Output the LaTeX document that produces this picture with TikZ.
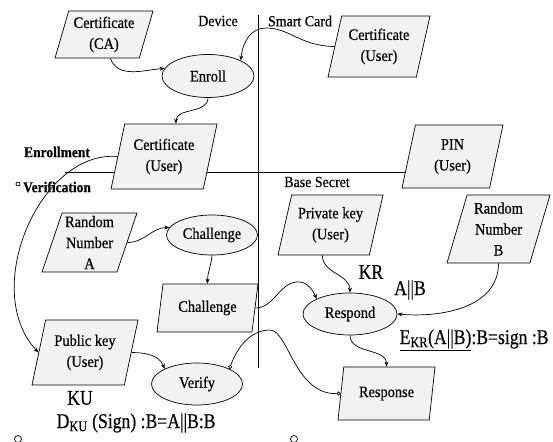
\documentclass[tikz,border=0pt]{standalone}
\usepackage{fontspec}
\setmainfont[FakeStretch=0.9, FakeBold=0.4]{Liberation Serif}
\newfontfamily\narrowfont[FakeStretch=0.84, FakeBold=0.4]{Liberation Serif}
\usetikzlibrary{arrows.meta,shapes.geometric}
\definecolor{boxfill}{HTML}{F2F2F2}

\begin{document}
\begin{tikzpicture}[x=1pt, y=-1pt,
  io/.style={draw, fill=boxfill, trapezium, trapezium left angle=70, trapezium right angle=110,
    trapezium stretches body, inner sep=1pt, align=center, font=\fontsize{16}{21}\selectfont},
  proc/.style={draw, fill=boxfill, ellipse, inner sep=0pt, font=\fontsize{16}{18}\selectfont},
  link/.style={-{Stealth[length=5pt, width=4pt]}},
  cmp/.style={{Circle[open, length=4pt]}-{Circle[open, length=4pt]}},
  lab/.style={font=\fontsize{15.5}{17}\selectfont},
  big/.style={font=\narrowfont\fontsize{21}{23}\selectfont},
  line width=0.7pt]
  \useasboundingbox (0,0) rectangle (553,441);

  % Separators
  \draw (258,15) -- (258,368);
  \draw (65,172) -- (420,172);

  % Region labels
  \node[lab] (device) at (218,21) {Device};
  \node[lab] (card) at (300,21) {Smart Card};
  \node[lab, font=\fontsize{15}{17}\selectfont\bfseries] (enrolment) at (57,152) {Enrollment};
  \node[lab, font=\fontsize{15}{17}\selectfont\bfseries] (verification) at (57,187) {Verification};
  \node[lab] (secret) at (317,182) {Base Secret};
  \draw (18,184) circle (2);
  \draw (18,439) circle (3.5);
  \draw (294,439) circle (3.5);

  % Data (parallelograms)
  \node[io, minimum width=98pt, minimum height=47pt] (ca) at (104,34.5) {Certificate\\(CA)};
  \node[io, minimum width=102pt, minimum height=61pt] (cu1) at (379,46.5) {Certificate\\(User)};
  \node[io, minimum width=106pt, minimum height=65pt] (cu2) at (164,156.5) {Certificate\\(User)};
  \node[io, minimum width=101pt, minimum height=63pt] (pin) at (452.5,156.5) {PIN\\(User)};
  \node[io, minimum width=105pt, minimum height=60pt] (prk) at (330.5,225) {Private key\\(User)};
  \node[io, minimum width=103pt, minimum height=68pt] (rnb) at (498.5,229) {Random\\Number\\B};
  \node[io, minimum width=95pt, minimum height=59pt] (rna) at (89.5,242.5) {Random\\Number\\A};
  \node[io, minimum width=101pt, minimum height=48pt] (chp) at (207.5,308) {Challenge};
  \node[io, minimum width=106pt, minimum height=65pt] (puk) at (85,352.5) {Public key\\(User)};
  \node[io, minimum width=97pt, minimum height=53pt] (resp) at (386.5,393.5) {Response};

  % Processes (ellipses)
  \node[proc, minimum width=92pt, minimum height=43pt] (enroll) at (208,76) {Enroll};
  \node[proc, minimum width=91pt, minimum height=40pt] (chal) at (212,235) {Challenge};
  \node[proc, minimum width=94pt, minimum height=42pt] (respond) at (350,314) {Respond};
  \node[proc, minimum width=91pt, minimum height=42pt] (verify) at (197,384) {Verify};

  % Key labels
  \node[big] (kr) at (371,272) {KR};
  \node[big] (ab) at (410,290) {A||B};
  \node[big, anchor=west] (sign) at (396,340) {\underline{E\textsubscript{KR}(A||B)}:B=sign :B};
  \node[big] (ku) at (80,398) {KU};
  \node[big, anchor=west] (check) at (53,423) {D\textsubscript{KU} (Sign) :B=A||B:B};

  % Flows
  \draw[link] (ca.-75) to[out=-70, in=185] (enroll.170);
  \draw[link] (cu1.west) .. controls (300,46) and (290,28) .. (266,28)
    .. controls (252,28) and (243,40) .. (enroll.north east);
  \draw[link] (enroll.south) to[out=-90, in=90] (cu2.70);
  \draw[link] (cu2.west) .. controls (40,150) and (-20,290) .. (puk.west);
  \draw[link] (rna.east) to[out=0, in=180] (chal.170);
  \draw[link] (chal.south) to[out=-95, in=90] (chp.north);
  \draw[link] (chp.east) .. controls (275,308) and (280,280) .. (300,282)
    .. controls (308,283) and (313,290) .. (respond.north west);
  \draw[link] (prk.-105) to[out=-90, in=90] (respond.north);
  \draw[link] (rnb.south) to[out=-90, in=-5] (respond.east);
  \draw[link] (respond.south) to[out=-90, in=90] (resp.north);
  \draw[link] (puk.east) to[out=0, in=110] (verify.north west);
  \coordinate (bend) at (270,330);
  \draw[cmp] (verify.north east) .. controls (238,345) and (252,330) .. (bend)
    .. controls (288,330) and (295,395) .. (resp.west);
\end{tikzpicture}
\end{document}
